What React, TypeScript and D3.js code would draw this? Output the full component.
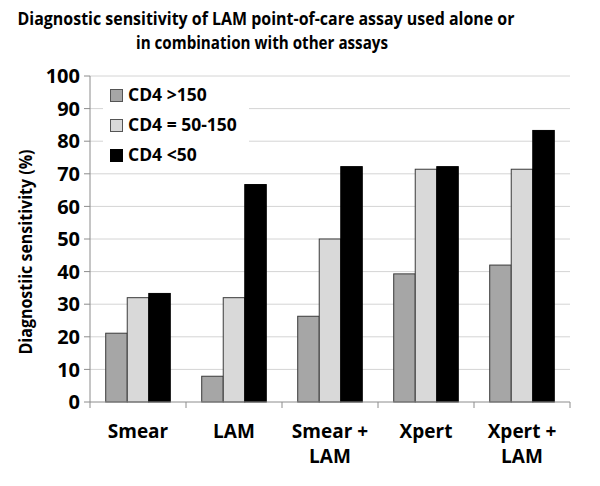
import React from "react";
import * as d3 from "d3";

const categories = ["Smear", "LAM", "Smear + LAM", "Xpert", "Xpert + LAM"];
const categoryLines = [["Smear"], ["LAM"], ["Smear +", "LAM"], ["Xpert"], ["Xpert +", "LAM"]];
const seriesNames = ["CD4 >150", "CD4 = 50-150", "CD4 <50"];
const cd4Above150 = [21.1, 7.9, 26.3, 39.3, 42.0];
const cd4Between = [32.0, 32.0, 50.0, 71.4, 71.4];
const cd4Below50 = [33.3, 66.7, 72.2, 72.2, 83.3];
const seriesColors = ["#a6a6a6", "#d9d9d9", "#000000"];
const yTicks = [0, 10, 20, 30, 40, 50, 60, 70, 80, 90, 100];

const FONT = "'Open Sans', sans-serif";

export default function App() {
  const W = 600, H = 486;
  const left = 90, right = 570, top = 76, bottom = 402;
  const x = d3.scaleBand<string>().domain(categories).range([left, right]).paddingInner(0).paddingOuter(0);
  const inner = d3.scaleBand<number>().domain([0, 1, 2]).range([0, x.bandwidth()]).paddingOuter(0.73).paddingInner(0);
  const y = d3.scaleLinear().domain([0, 100]).range([bottom, top]);
  const series = [cd4Above150, cd4Between, cd4Below50];
  const boundaries = d3.range(categories.length + 1).map(i => left + i * x.bandwidth());

  return (
    <svg width={W} height={H} style={{ position: "absolute", left: 0, top: 0, background: "#fff" }}>
      <rect x={0} y={0} width={W} height={H} fill="#fff" />
      <text x={266} y={25} textAnchor="middle" fontFamily={FONT} fontWeight="bold" fontSize={17} textLength={497} lengthAdjust="spacingAndGlyphs">
        Diagnostic sensitivity of LAM point-of-care assay used alone or
      </text>
      <text x={262} y={49} textAnchor="middle" fontFamily={FONT} fontWeight="bold" fontSize={17} textLength={252} lengthAdjust="spacingAndGlyphs">
        in combination with other assays
      </text>
      {yTicks.map(t => (
        <g key={t}>
          {t > 0 && <line x1={left} x2={right} y1={y(t)} y2={y(t)} stroke="#d4d4d4" strokeWidth={1} />}
          <line x1={left - 6} x2={left} y1={y(t)} y2={y(t)} stroke="#8c8c8c" strokeWidth={1} />
          <text x={80} y={y(t)} dy="0.36em" textAnchor="end" fontFamily={FONT} fontWeight="bold" fontSize={20}>{t}</text>
        </g>
      ))}
      <rect x={103} y={84} width={146} height={86} fill="#fff" />
      {series.map((vals, si) => (
        <g key={si}>
          {vals.map((v, ci) => (
            <rect key={ci}
              x={(x(categories[ci]) ?? 0) + (inner(si) ?? 0)}
              y={y(v)}
              width={inner.bandwidth()}
              height={y(0) - y(v)}
              fill={seriesColors[si]}
              stroke={si === 2 ? "#000" : "#3a3a3a"}
              strokeWidth={1} />
          ))}
        </g>
      ))}
      <line x1={left} x2={left} y1={top} y2={bottom} stroke="#8c8c8c" strokeWidth={1} />
      <line x1={left} x2={right} y1={bottom} y2={bottom} stroke="#8c8c8c" strokeWidth={1} />
      {boundaries.map((b, i) => (
        <line key={i} x1={b} x2={b} y1={bottom} y2={bottom + 6} stroke="#8c8c8c" strokeWidth={1} />
      ))}
      {categoryLines.map((lines, ci) => (
        <text key={ci} x={(x(categories[ci]) ?? 0) + x.bandwidth() / 2} y={438} textAnchor="middle" fontFamily={FONT} fontWeight="bold" fontSize={19}>
          {lines.map((l, li) => (
            <tspan key={li} x={(x(categories[ci]) ?? 0) + x.bandwidth() / 2} dy={li === 0 ? 0 : 25}>{l}</tspan>
          ))}
        </text>
      ))}
      {seriesNames.map((s, i) => (
        <g key={s}>
          <rect x={110.5} y={89.5 + i * 30} width={12} height={12} fill={seriesColors[i]} stroke={i === 2 ? "#000" : "#555"} strokeWidth={1} />
          <text x={128} y={101 + i * 30} fontFamily={FONT} fontWeight="bold" fontSize={17.5}>{s}</text>
        </g>
      ))}
      <text transform={`translate(32, 252) rotate(-90)`} textAnchor="middle" fontFamily={FONT} fontWeight="bold" fontSize={18} textLength={205} lengthAdjust="spacingAndGlyphs">
        Diagnostiic sensitivity (%)
      </text>
    </svg>
  );
}
